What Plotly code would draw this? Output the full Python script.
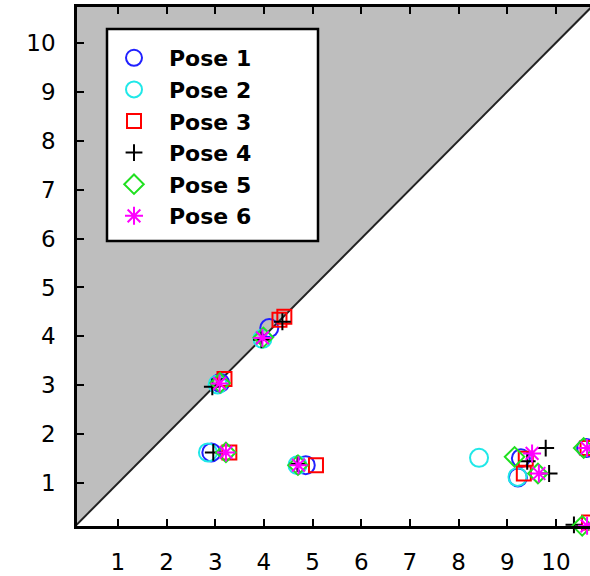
import plotly.graph_objects as go

# ---- data ----
pose_names = ["Pose 1", "Pose 2", "Pose 3", "Pose 4", "Pose 5", "Pose 6"]
pose1_x = [3.10, 4.11, 2.92, 4.86, 9.28, 9.22, 10.62]
pose1_y = [3.05, 4.17, 1.63, 1.37, 1.51, 1.12, 1.72]
pose2_x = [3.05, 3.97, 2.85, 4.69, 8.42, 9.21]
pose2_y = [3.02, 3.95, 1.63, 1.37, 1.52, 1.13]
pose3_x = [3.19, 4.32, 4.42, 3.29, 5.07, 9.34, 9.38, 10.65, 10.68]
pose3_y = [3.13, 4.34, 4.40, 1.63, 1.37, 1.20, 1.50, 1.72, 0.20]
pose4_x = [2.94, 3.95, 4.38, 2.96, 4.69, 9.41, 9.79, 9.86, 10.37]
pose4_y = [2.97, 3.93, 4.30, 1.63, 1.40, 1.45, 1.72, 1.20, 0.15]
pose5_x = [3.10, 3.99, 3.22, 4.70, 9.15, 9.63, 10.57, 10.54]
pose5_y = [3.05, 3.98, 1.63, 1.37, 1.54, 1.20, 1.72, 0.13]
pose6_x = [3.09, 3.97, 3.22, 4.71, 9.51, 9.65, 10.64, 10.64]
pose6_y = [3.04, 3.97, 1.63, 1.37, 1.61, 1.20, 1.72, 0.13]
tick_vals = [1, 2, 3, 4, 5, 6, 7, 8, 9, 10]

xs = [pose1_x, pose2_x, pose3_x, pose4_x, pose5_x, pose6_x]
ys = [pose1_y, pose2_y, pose3_y, pose4_y, pose5_y, pose6_y]
colors = ["#2020ff", "#20e8e8", "#ff0000", "#000000", "#20e020", "#ff00ff"]
symbols = ["circle-open", "circle-open", "square-open", "cross-thin-open",
           "diamond-open", "asterisk-open"]
sizes = [18, 18, 14, 12, 15, 15]

X0, X1 = 0.16, 10.70
Y0, Y1 = 0.127, 10.73
L, T, W, H = 77, 7, 513, 519   # plot area in px
sx = W / (X1 - X0)
sy = H / (Y1 - Y0)


def px_to_x(p):
    return X0 + (p - L) / sx


def py_to_y(p):
    return Y1 - (p - T) / sy


fig = go.Figure()
for name, x, y, c, s, sz in zip(pose_names, xs, ys, colors, symbols, sizes):
    fig.add_trace(go.Scatter(
        x=x, y=y, mode="markers", name=name, cliponaxis=False,
        marker=dict(symbol=s, size=sz, color=c, line=dict(color=c, width=2)),
    ))

# gray region above the diagonal and the diagonal itself
fig.add_shape(type="path", xref="x", yref="y",
              path=f"M {X0-1} {X0-1} L {Y1+1} {Y1+1} L {X0-1} {Y1+1} Z",
              fillcolor="#bebebe", line=dict(width=0), layer="below")
fig.add_shape(type="line", xref="x", yref="y", x0=X0 - 1, y0=X0 - 1,
              x1=Y1 + 1, y1=Y1 + 1, line=dict(color="#222222", width=2),
              layer="below")
# legend box
fig.add_shape(type="rect", xref="x", yref="y",
              x0=px_to_x(107), x1=px_to_x(318),
              y0=py_to_y(241), y1=py_to_y(29),
              fillcolor="white", line=dict(color="black", width=2.5),
              layer="below")

axis_common = dict(
    showgrid=False, zeroline=False, showline=True, linecolor="black",
    linewidth=2.5, ticks="inside", ticklen=7, tickwidth=2, tickcolor="black",
    tickvals=tick_vals, ticktext=[str(v) for v in tick_vals],
    tickfont=dict(family="DejaVu Sans", size=23, color="black"),
)
fig.update_xaxes(range=[X0, X1], mirror="ticks", ticklabelstandoff=14,
                 **axis_common)
fig.update_yaxes(range=[Y0, Y1], mirror=False, ticklabelstandoff=14,
                 **axis_common)

fig.update_layout(
    width=590, height=576,
    margin=dict(l=L, r=590 - L - W, t=T, b=576 - T - H),
    plot_bgcolor="white", paper_bgcolor="white",
    showlegend=True,
    legend=dict(
        x=(99 - L) / W, y=(T + H - 37) / H, xanchor="left", yanchor="top",
        bgcolor="rgba(0,0,0,0)", borderwidth=0, itemwidth=60,
        font=dict(family="DejaVu Sans", size=22, color="black", weight="bold"),
        tracegroupgap=0,
    ),
)

fig.write_html("out.html",
               config={"displayModeBar": False},
               post_script="document.body.style.margin='0';"
                           "document.body.style.padding='0';")
